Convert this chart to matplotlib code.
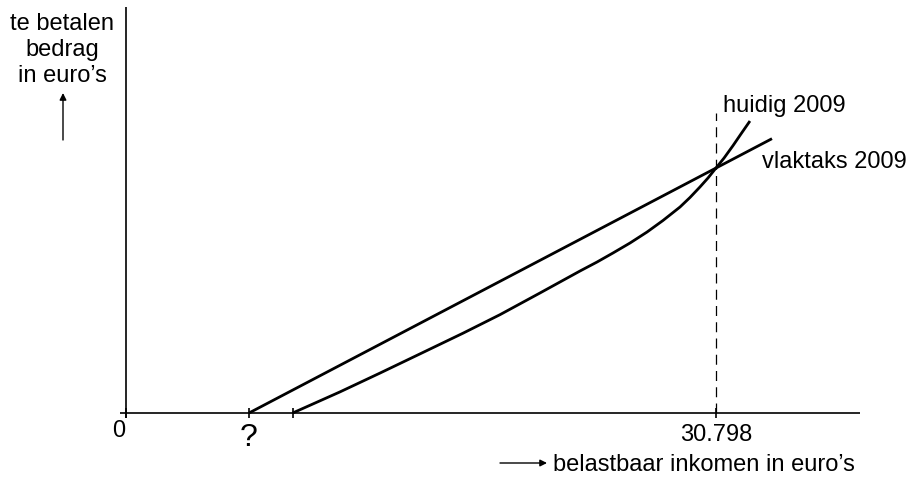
import matplotlib
matplotlib.use("Agg")
import matplotlib.pyplot as plt

# ---- data (euros) ----
x_ticks = [0, 6420, 8700, 30798]
x_tick_labels = ["0", "?", "", "30.798"]

vlaktaks_x = [6420, 33720]
vlaktaks_y = [0, 9555]

huidig_x = [8700, 11170, 13260, 15350, 17590, 19520, 21610, 23700, 24590,
            25420, 26310, 27200, 28030, 28920, 29440, 29960, 30380, 30798,
            31220, 31690, 32100, 32570]
huidig_y = [0, 735, 1391, 2060, 2779, 3424, 4180, 4946, 5259,
            5573, 5921, 6304, 6705, 7175, 7506, 7872, 8185, 8533,
            8882, 9317, 9718, 10170]

intersect_x = 30798
dash_top = 10450
x_axis_end = 38315
y_axis_top = 14140

# ---- layout helpers (pixel -> data) ----
W, H = 910, 480
OX, OY = 126, 413
XPP = 30798 / 590.0
YPP = 34.83


def px(xp, yp):
    return ((xp - OX) * XPP, (OY - yp) * YPP)


fig = plt.figure(figsize=(W / 100, H / 100), dpi=100)
ax = fig.add_axes([0, 0, 1, 1])
ax.set_xlim(px(0, 0)[0], px(W, 0)[0])
ax.set_ylim(px(0, H)[1], px(0, 0)[1])
ax.axis("off")

FONT = "Liberation Sans"
FS = 17
axis_lw = 1.2

# axes
ax.plot([px(120, 0)[0], x_axis_end], [0, 0], color="black", lw=axis_lw,
        solid_capstyle="butt")
ax.plot([0, 0], [px(0, 418)[1], y_axis_top], color="black", lw=axis_lw,
        solid_capstyle="butt")

# ticks
th = 5 * YPP
for t in x_ticks:
    ax.plot([t, t], [-th, th], color="black", lw=axis_lw, solid_capstyle="butt")

# dashed guide
ax.plot([intersect_x, intersect_x], [0, dash_top], color="black", lw=0.9,
        linestyle=(0, (8, 5)))

# curves
ax.plot(vlaktaks_x, vlaktaks_y, color="black", lw=2.0, solid_capstyle="butt")
ax.plot(huidig_x, huidig_y, color="black", lw=2.0, solid_capstyle="butt",
        solid_joinstyle="round")

# tick labels
ax.text(*px(119, 437), x_tick_labels[0], ha="center", va="baseline",
        fontsize=FS, family=FONT)
ax.text(x_ticks[1], px(0, 446)[1], x_tick_labels[1], ha="center",
        va="baseline", fontsize=23, family=FONT)
ax.text(x_ticks[3], px(0, 441)[1], x_tick_labels[3], ha="center",
        va="baseline", fontsize=FS, family=FONT)

# curve labels
ax.text(*px(723, 112), "huidig 2009", ha="left", va="baseline",
        fontsize=FS, family=FONT)
ax.text(*px(762, 168), "vlaktaks 2009", ha="left", va="baseline",
        fontsize=FS, family=FONT)

# axis titles
ax.text(*px(553, 471), "belastbaar inkomen in euro\u2019s", ha="left",
        va="baseline", fontsize=FS, family=FONT)
ax.annotate("", xy=px(547, 463), xytext=px(500, 463),
            arrowprops=dict(arrowstyle="-|>", color="black", lw=1.0,
                            mutation_scale=10, shrinkA=0, shrinkB=0))

for line, yb in [("te betalen", 30), ("bedrag", 56), ("in euro\u2019s", 82)]:
    ax.text(*px(62, yb), line, ha="center", va="baseline", fontsize=FS,
            family=FONT)
ax.annotate("", xy=px(63, 93), xytext=px(63, 140),
            arrowprops=dict(arrowstyle="-|>", color="black", lw=1.0,
                            mutation_scale=10, shrinkA=0, shrinkB=0))

fig.savefig("out.png", dpi=100)
